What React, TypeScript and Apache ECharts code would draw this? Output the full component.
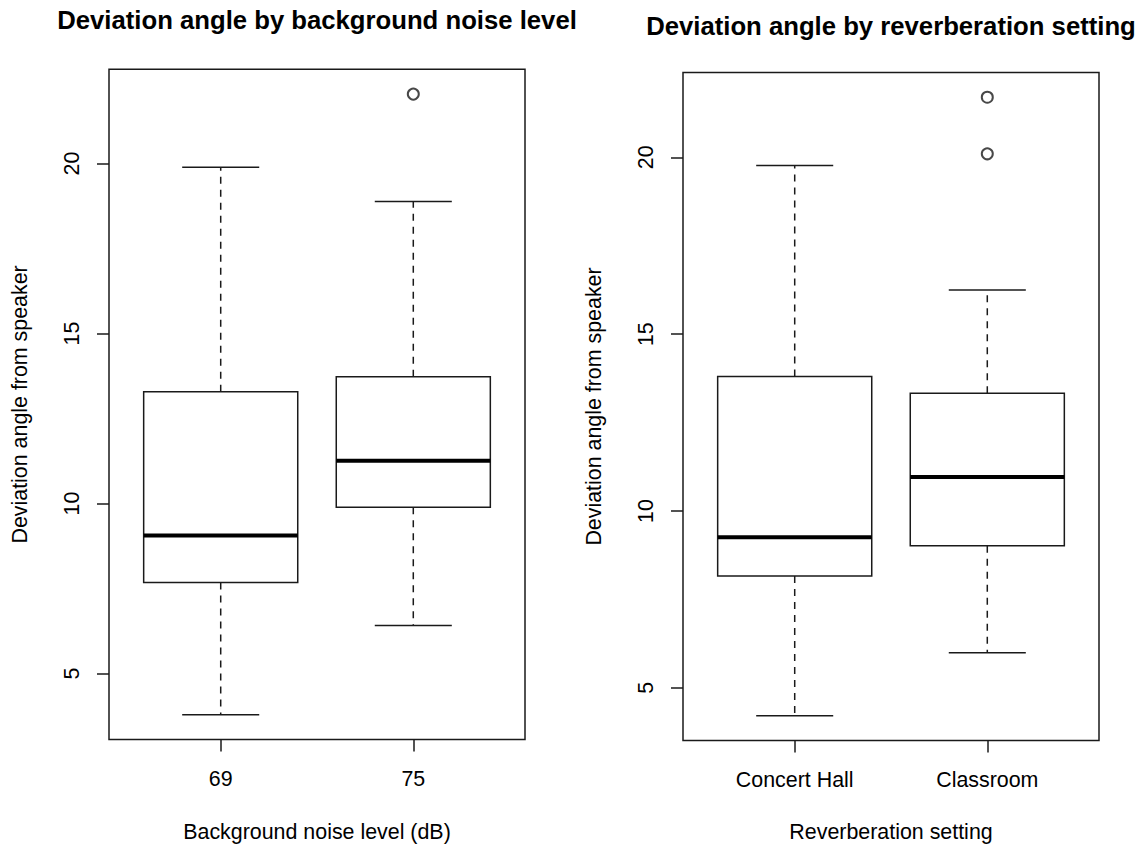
import React, { useEffect, useRef } from 'react';
import * as echarts from 'echarts';

// ---------- data ----------
const noiseCategories = ['69', '75'];
// each box: [lower whisker, Q1, median, Q3, upper whisker]
const noiseBoxes = [
  [3.79, 7.68, 9.06, 13.29, 19.89],
  [6.41, 9.89, 11.26, 13.73, 18.88],
];
const noiseOutliers = [[2, 22.04]];

const reverbCategories = ['Concert Hall', 'Classroom'];
const reverbBoxes = [
  [4.21, 8.16, 9.26, 13.8, 19.77],
  [5.99, 9.02, 10.96, 13.33, 16.25],
];
const reverbOutliers = [[2, 21.7], [2, 20.1]];

const yTicks = [5, 10, 15, 20];
const xTicks = [1, 2];

const titles = ['Deviation angle by background noise level', 'Deviation angle by reverberation setting'];
const xNames = ['Background noise level (dB)', 'Reverberation setting'];
const yName = 'Deviation angle from speaker';

// ---------- style ----------
const FONT = '"Liberation Sans", Arial, Helvetica, sans-serif';
const INK = '#1a1a1a';
const LW = 1.5;

function extendRange(boxes: number[][], outliers: number[][]) {
  const vals: number[] = [];
  boxes.forEach((b) => vals.push(...b));
  outliers.forEach((o) => vals.push(o[1]));
  const lo = Math.min(...vals);
  const hi = Math.max(...vals);
  const pad = (hi - lo) * 0.04;
  return [lo - pad, hi + pad];
}

const panels = [
  { cats: noiseCategories, boxes: noiseBoxes, outliers: noiseOutliers, left: 109, top: 69.3, width: 416, height: 670.2 },
  { cats: reverbCategories, boxes: reverbBoxes, outliers: reverbOutliers, left: 683, top: 72.5, width: 416, height: 668 },
];

function renderBox(params: any, api: any) {
  const x = api.value(0);
  const lo = api.value(1);
  const q1 = api.value(2);
  const med = api.value(3);
  const q3 = api.value(4);
  const hi = api.value(5);
  const pLo = api.coord([x, lo]);
  const pQ1 = api.coord([x, q1]);
  const pMed = api.coord([x, med]);
  const pQ3 = api.coord([x, q3]);
  const pHi = api.coord([x, hi]);
  const bw = api.size([0.8, 0])[0];
  const sw = api.size([0.4, 0])[0];
  const cx = pMed[0];
  const dash = { stroke: INK, lineWidth: LW, lineDash: [7, 6] };
  const solid = { stroke: INK, lineWidth: LW };
  return {
    type: 'group',
    children: [
      { type: 'line', shape: { x1: cx, y1: pQ3[1], x2: cx, y2: pHi[1] }, style: dash },
      { type: 'line', shape: { x1: cx, y1: pQ1[1], x2: cx, y2: pLo[1] }, style: dash },
      { type: 'line', shape: { x1: cx - sw / 2, y1: pHi[1], x2: cx + sw / 2, y2: pHi[1] }, style: solid },
      { type: 'line', shape: { x1: cx - sw / 2, y1: pLo[1], x2: cx + sw / 2, y2: pLo[1] }, style: solid },
      {
        type: 'rect',
        shape: { x: cx - bw / 2, y: pQ3[1], width: bw, height: pQ1[1] - pQ3[1] },
        style: { fill: '#fff', stroke: INK, lineWidth: LW },
      },
      { type: 'line', shape: { x1: cx - bw / 2, y1: pMed[1], x2: cx + bw / 2, y2: pMed[1] }, style: { stroke: '#000', lineWidth: 4 } },
    ],
  };
}

export default function App() {
  const ref = useRef<HTMLDivElement>(null);

  useEffect(() => {
    if (!ref.current) return;
    const chart = echarts.init(ref.current, undefined, { renderer: 'svg' });

    const grids: any[] = [];
    const xAxes: any[] = [];
    const yAxes: any[] = [];
    const series: any[] = [];
    const graphics: any[] = [];

    panels.forEach((p, i) => {
      const [ymin, ymax] = extendRange(p.boxes, p.outliers);
      grids.push({
        left: p.left,
        top: p.top,
        width: p.width,
        height: p.height,
        show: true,
        borderColor: INK,
        borderWidth: LW,
        backgroundColor: 'transparent',
        containLabel: false,
        outerBoundsMode: 'none',
      });
      xAxes.push({
        type: 'value',
        gridIndex: i,
        min: 0.42,
        max: 2.58,
        splitLine: { show: false },
        axisLine: { show: false },
        axisTick: { show: true, customValues: xTicks, length: 12, lineStyle: { color: INK, width: LW } },
        axisLabel: {
          customValues: xTicks,
          formatter: (v: number) => p.cats[Math.round(v) - 1] ?? '',
          margin: 29,
          fontSize: 21.4,
          lineHeight: 21.4,
          color: '#000',
          fontFamily: FONT,
        },
      });
      yAxes.push({
        type: 'value',
        gridIndex: i,
        min: ymin,
        max: ymax,
        splitLine: { show: false },
        axisLine: { show: false },
        axisTick: { show: true, customValues: yTicks, length: 12, lineStyle: { color: INK, width: LW } },
        axisLabel: {
          customValues: yTicks,
          rotate: 90,
          margin: 26,
          fontSize: 21.4,
          lineHeight: 21.4,
          color: '#000',
          fontFamily: FONT,
        },
      });
      series.push({
        type: 'custom',
        xAxisIndex: i,
        yAxisIndex: i,
        renderItem: renderBox,
        encode: { x: 0, y: [1, 2, 3, 4, 5] },
        data: p.boxes.map((b, k) => [xTicks[k], ...b]),
        z: 2,
      });
      series.push({
        type: 'scatter',
        xAxisIndex: i,
        yAxisIndex: i,
        symbol: 'emptyCircle',
        symbolSize: 11,
        itemStyle: { color: INK, borderColor: INK, borderWidth: LW },
        data: p.outliers,
        z: 3,
      });

      const cx = p.left + p.width / 2;
      graphics.push({
        type: 'text',
        x: cx,
        y: i === 0 ? 20 : 26,
        style: {
          text: titles[i],
          fontSize: 25.7,
          fontWeight: 'bold',
          fontFamily: FONT,
          fill: '#000',
          align: 'center',
          verticalAlign: 'middle',
          textAlign: 'center',
          textVerticalAlign: 'middle',
        },
      });
      graphics.push({
        type: 'text',
        x: cx,
        y: 832,
        style: {
          text: xNames[i],
          fontSize: 21.4,
          fontFamily: FONT,
          fill: '#000',
          align: 'center',
          verticalAlign: 'middle',
          textAlign: 'center',
          textVerticalAlign: 'middle',
        },
      });
      graphics.push({
        type: 'text',
        x: p.left - 89.5,
        y: p.top + p.height / 2,
        rotation: Math.PI / 2,
        style: {
          text: yName,
          fontSize: 21.4,
          fontFamily: FONT,
          fill: '#000',
          align: 'center',
          verticalAlign: 'middle',
          textAlign: 'center',
          textVerticalAlign: 'middle',
        },
      });
    });

    chart.setOption({
      animation: false,
      backgroundColor: '#fff',
      grid: grids,
      xAxis: xAxes,
      yAxis: yAxes,
      series,
      graphic: { elements: graphics },
    });

    return () => chart.dispose();
  }, []);

  return (
    <div
      ref={ref}
      style={{ position: 'fixed', left: 0, top: 0, width: 1145, height: 845, background: '#fff' }}
    />
  );
}
